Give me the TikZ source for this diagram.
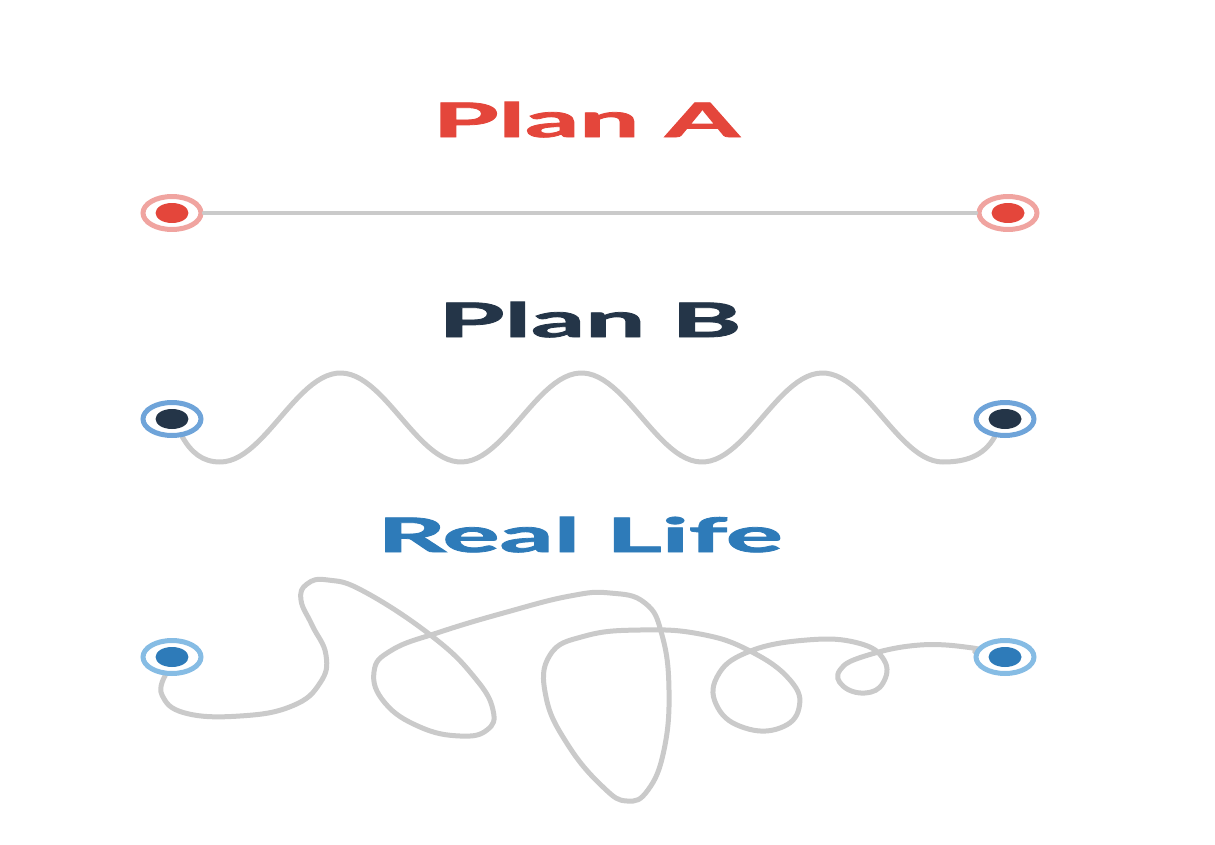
\documentclass[tikz,border=0pt]{standalone}
\usepackage{fontspec}
\newfontfamily\heavyfont[FakeBold=1.6]{Lato Bold}
\usetikzlibrary{shapes.geometric,backgrounds}

\definecolor{planared}{HTML}{E4463B}
\definecolor{planapink}{HTML}{F0A4A0}
\definecolor{planbnavy}{HTML}{243548}
\definecolor{planbring}{HTML}{6FA4D9}
\definecolor{lifeblue}{HTML}{2E7BB9}
\definecolor{lifering}{HTML}{86BCE4}
\definecolor{pathgray}{HTML}{CACACA}

\tikzset{
  endpoint/.style 2 args={ellipse, draw=#1, line width=0.1cm, fill=white,
    minimum width=1.16cm, minimum height=0.66cm, inner sep=0pt,
    path picture={\fill[#2] (path picture bounding box.center) ellipse (0.33cm and 0.2cm);}},
  title/.style={anchor=base, inner sep=0pt, xscale=2.25,
    font=\fontsize{27}{30}\selectfont\heavyfont},
  route/.style={draw=pathgray, line width=0.1cm, line cap=round, line join=round},
}

\begin{document}
\begin{tikzpicture}[x=0.02cm, y=-0.02cm]
    \useasboundingbox (0,0) rectangle (1215,845);

    % plan A
    \node[title, text=planared] (titleA) at (586,137) {Plan A};
    \node[endpoint={planapink}{planared}] (a1) at (172,213) {};
    \node[endpoint={planapink}{planared}] (a2) at (1008,213) {};
    \draw[route, line width=0.065cm] (a1) -- (a2);

    % plan B
    \node[title, text=planbnavy] (titleB) at (590,337) {Plan B};
    \node[endpoint={planbring}{planbnavy}] (b1) at (172,419) {};
    \node[endpoint={planbring}{planbnavy}] (b2) at (1005,419) {};

    % real life
    \node[title, text=lifeblue] (titleC) at (580,552) {Real Life};
    \node[endpoint={lifering}{lifeblue}] (r1) at (172,657) {};
    \node[endpoint={lifering}{lifeblue}] (r2) at (1005,657) {};

    \begin{scope}[on background layer]
    \draw[route] (b1.300) to[out=-60,in=180] (220,462)
        -- plot[domain=220:943, samples=150] (\x,{417.5+44.5*cos((\x-220)*1.4938)})
        to[out=0,in=240] (b2.240);
    \draw[route] plot[smooth, tension=0.75] coordinates {
        (r1.250) (162,695) (185,713) (240,716) (292,706) (320,683) (326,655)
        (312,625) (301,600) (307,584) (328,580) (365,592) (433,637)
        (475,678) (493,710) (487,730) (460,736) (420,727) (385,703)
        (374,672) (392,650) (440,632) (507,612) (570,596) (610,593)
        (645,603) (662,635) (669,690) (664,750) (648,790) (627,801) (603,787)
        (568,745) (546,697) (550,655) (585,636) (640,630) (700,634) (750,651)
        (790,680) (799,708) (780,728) (745,728) (718,708) (717,677) (748,652)
        (807,640) (858,643) (884,660) (883,683) (865,693) (843,686) (840,670)
        (865,656) (920,645) (973,648) (r2.170)};
    \end{scope}
\end{tikzpicture}
\end{document}
